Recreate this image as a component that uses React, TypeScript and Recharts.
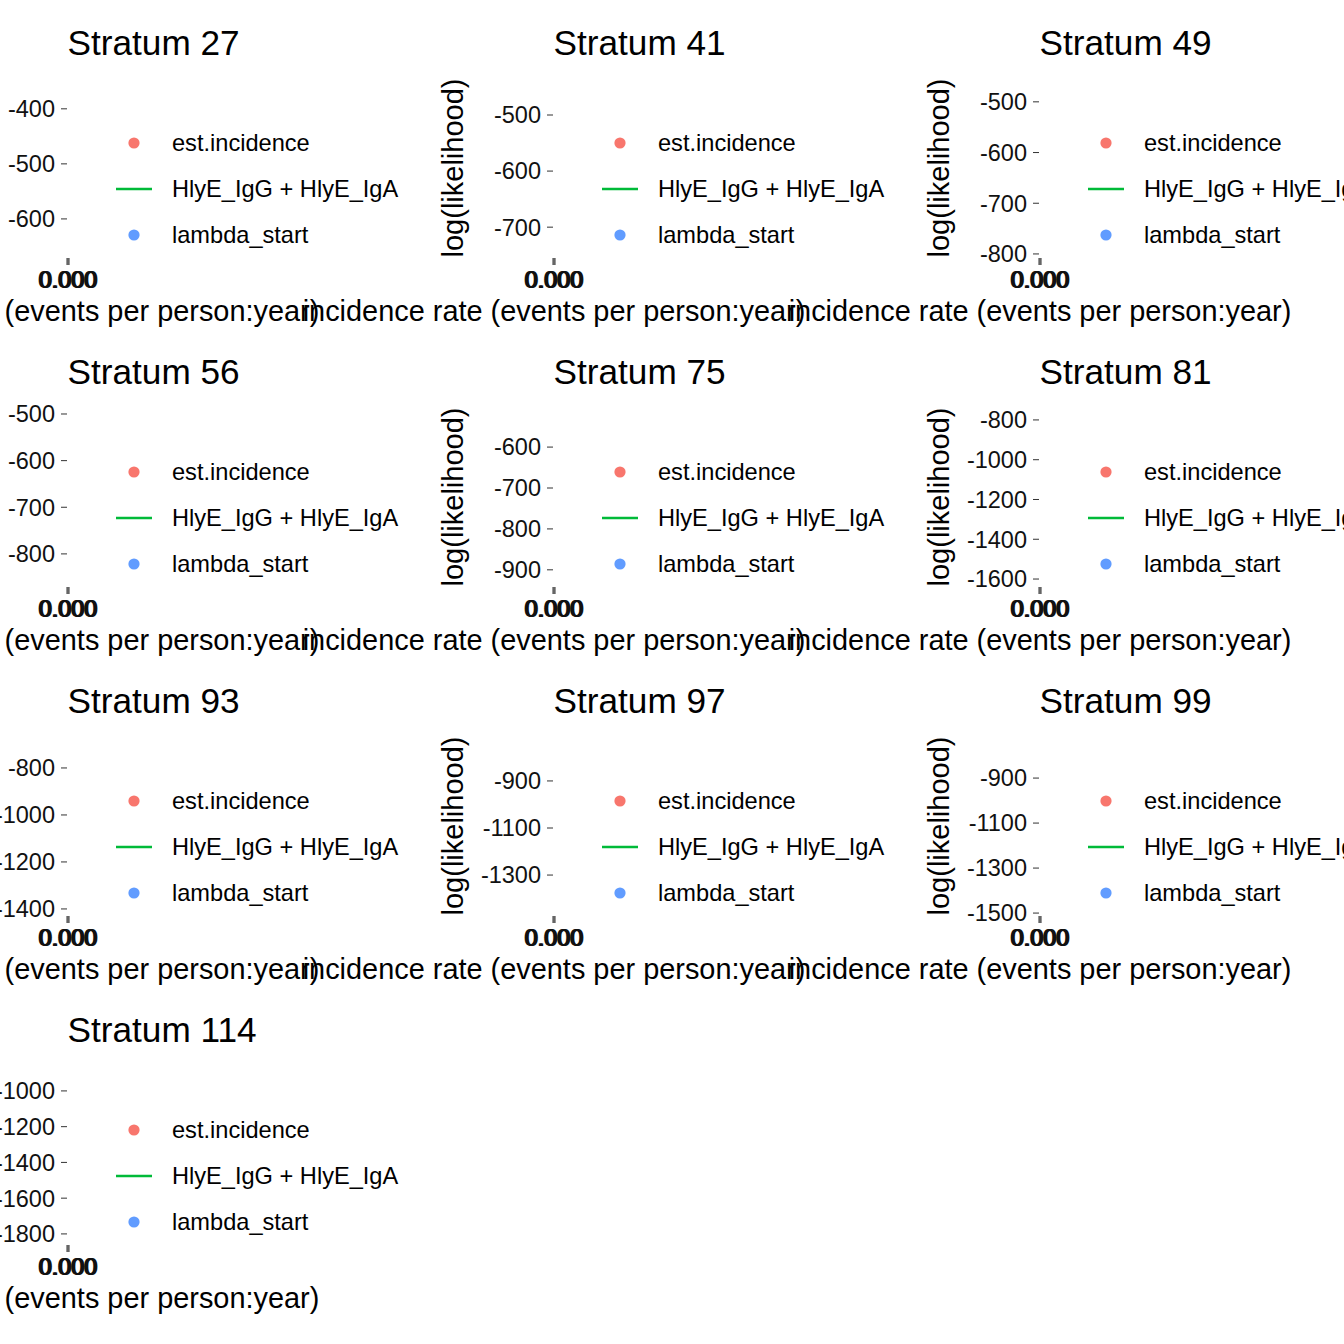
import React from "react";
import { ComposedChart, XAxis, YAxis, Legend, Line, Scatter } from "recharts";

const strata = [
  "Stratum 27", "Stratum 41", "Stratum 49",
  "Stratum 56", "Stratum 75", "Stratum 81",
  "Stratum 93", "Stratum 97", "Stratum 99",
  "Stratum 114",
];
const yTicks = [
  [-400, -500, -600],
  [-500, -600, -700],
  [-500, -600, -700, -800],
  [-500, -600, -700, -800],
  [-600, -700, -800, -900],
  [-800, -1000, -1200, -1400, -1600],
  [-800, -1000, -1200, -1400],
  [-900, -1100, -1300],
  [-900, -1100, -1300, -1500],
  [-1000, -1200, -1400, -1600, -1800],
];
const yDomains = [
  [-671, -344],
  [-755, -434],
  [-808, -453],
  [-871, -485],
  [-942, -502],
  [-1640, -735],
  [-1430, -664],
  [-1474, -709],
  [-1513, -713],
  [-1862, -855],
];
const xTicks = [0, 0.0001, 0.0002];
// nothing is visible inside the collapsed panels, so the series carry no values
const emptyRows = xTicks.map((x) => ({ x, loglik: null }));
const legendLabels = ["est.incidence", "HlyE_IgG + HlyE_IgA", "lambda_start"];
const legendColors = ["#F8766D", "#00BA38", "#619CFF"];
const legendShapes = ["point", "line", "point"];

function LegendBox() {
  return (
    <div style={{ fontSize: 23.6, color: "#000", whiteSpace: "nowrap" }}>
      {legendLabels.map((label, i) => (
        <div key={label} style={{ display: "flex", alignItems: "center", height: 46 }}>
          <svg width={40} height={46}>
            {legendShapes[i] === "line" ? (
              <line x1={2} x2={38} y1={23} y2={23} stroke={legendColors[i]} strokeWidth={2.6} />
            ) : (
              <circle cx={20} cy={23} r={5.6} fill={legendColors[i]} />
            )}
          </svg>
          <span style={{ marginLeft: 18 }}>{label}</span>
        </div>
      ))}
    </div>
  );
}

function Panel({ idx }: { idx: number }) {
  const col = idx % 3;
  const row = Math.floor(idx / 3);
  const plotX = 67 + col * 486;
  const top = row * 329;
  return (
    <div style={{ position: "absolute", left: plotX - 130, top, width: 486, height: 329 }}>
      <div
        style={{
          position: "absolute",
          left: 130.5,
          top: 25,
          fontSize: 35.2,
          lineHeight: "35px",
          whiteSpace: "nowrap",
          color: "#000",
        }}
      >
        {strata[idx]}
      </div>
      <ComposedChart width={486} height={329} data={emptyRows} margin={{ top: 78, right: 354, bottom: 0, left: 0 }}>
        <XAxis
          type="number"
          dataKey="x"
          domain={[0, 0.0002]}
          ticks={xTicks}
          interval={0}
          tickFormatter={(v: number) => v.toFixed(3)}
          axisLine={false}
          tickLine={{ stroke: "#333" }}
          tickSize={7}
          tickMargin={6}
          height={71}
          tick={{ fontSize: 23.4, fill: "#111" }}
          label={{
            value: "incidence rate (events per person:year)",
            position: "insideBottom",
            offset: 8,
            fontSize: 28.9,
            fill: "#000",
          }}
        />
        <YAxis
          type="number"
          domain={yDomains[idx]}
          ticks={yTicks[idx]}
          interval={0}
          allowDataOverflow
          width={130}
          axisLine={false}
          tickLine={{ stroke: "#333" }}
          tickSize={6}
          tickMargin={6}
          tick={{ fontSize: 23.5, fill: "#111" }}
          label={{
            value: "log(likelihood)",
            angle: -90,
            position: "insideLeft",
            offset: 30,
            fontSize: 29,
            fill: "#000",
            style: { textAnchor: "middle" },
          }}
        />
        <Line dataKey="loglik" stroke="#00BA38" dot={false} isAnimationActive={false} />
        <Scatter dataKey="loglik" fill="#F8766D" isAnimationActive={false} />
        <Legend
          layout="vertical"
          align="center"
          verticalAlign="middle"
          wrapperStyle={{ left: 177, top: 120, width: 320, height: 138 }}
          content={() => <LegendBox />}
        />
      </ComposedChart>
    </div>
  );
}

export default function App() {
  return (
    <div
      style={{
        position: "absolute",
        left: 0,
        top: 0,
        width: 1344,
        height: 1344,
        overflow: "hidden",
        background: "#fff",
        fontFamily: "'Liberation Sans', Arial, sans-serif",
      }}
    >
      <style>{".recharts-surface { overflow: visible; } .recharts-wrapper { overflow: visible; }"}</style>
      {strata.map((s, i) => (
        <Panel key={s} idx={i} />
      ))}
    </div>
  );
}
